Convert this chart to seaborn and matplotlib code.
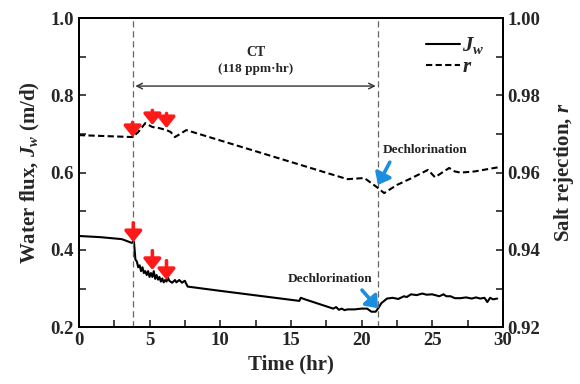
import numpy as np
import pandas as pd
import seaborn as sns
import matplotlib
matplotlib.use("Agg")
import matplotlib.pyplot as plt
from matplotlib.lines import Line2D

# ---------------- data ----------------
jw_time = [0, 1.5, 3.0, 3.1, 3.75, 3.85, 3.9, 4.0, 4.1, 4.2, 4.3, 4.4, 4.5, 4.6, 4.7, 4.8, 4.9,
           5.0, 5.1, 5.2, 5.3, 5.4, 5.5, 5.6, 5.7, 5.8, 5.9, 6.0, 6.1, 6.2, 6.3, 6.4, 6.6, 6.8,
           6.9, 7.1, 7.3, 7.4, 7.5, 7.6, 7.7, 10, 15.6, 15.7, 16.0, 17.0, 18.0, 18.2, 18.4, 18.6,
           18.8, 19.0, 19.5, 20.0, 20.4, 20.7, 21.0, 21.2, 21.4, 21.6, 21.8, 22.2, 22.6, 23.0,
           23.2, 23.5, 23.9, 24.3, 24.6, 25.0, 25.5, 25.8, 26.0, 26.3, 26.6, 27.0, 27.4, 27.8,
           28.1, 28.4, 28.7, 28.9, 29.1, 29.3, 29.6]
jw_flux = [0.436, 0.433, 0.428, 0.427, 0.418, 0.422, 0.42, 0.375, 0.37, 0.355, 0.36, 0.345,
           0.355, 0.34, 0.345, 0.335, 0.345, 0.33, 0.34, 0.33, 0.345, 0.325, 0.335, 0.323, 0.33,
           0.318, 0.326, 0.316, 0.322, 0.318, 0.328, 0.32, 0.315, 0.322, 0.316, 0.322, 0.315,
           0.318, 0.32, 0.312, 0.305, 0.294, 0.268, 0.276, 0.272, 0.26, 0.248, 0.252, 0.245,
           0.248, 0.244, 0.246, 0.246, 0.248, 0.248, 0.24, 0.24, 0.25, 0.262, 0.268, 0.274,
           0.276, 0.273, 0.28, 0.278, 0.285, 0.283, 0.287, 0.284, 0.285, 0.28, 0.285, 0.28,
           0.28, 0.275, 0.275, 0.277, 0.274, 0.277, 0.274, 0.276, 0.265, 0.276, 0.272, 0.274]

r_time = [0, 3.8, 4.2, 4.7, 5.2, 5.6, 6.2, 6.5, 6.8, 7.6, 19.0, 20.2, 21.1, 21.6, 22.5,
          23.5, 24.7, 25.2, 26.2, 26.6, 27.0, 28.0, 29.7]
r_rej = [0.9697, 0.9692, 0.9705, 0.9728, 0.9718, 0.9716, 0.971, 0.9705, 0.9692, 0.971,
         0.9583, 0.9586, 0.9562, 0.9547, 0.9568, 0.9585, 0.9607, 0.9588, 0.9612, 0.9603,
         0.96, 0.9603, 0.9614]

ct_start, ct_end = 3.8, 21.2
red_arrow_t_r = [3.8, 5.2, 6.2]
red_arrow_r = [0.9692, 0.9723, 0.9715]
red_arrow_t_j = [3.85, 5.2, 6.2]
red_arrow_j = [0.42, 0.348, 0.322]

df_j = pd.DataFrame({"t": jw_time, "v": jw_flux})
df_r = pd.DataFrame({"t": r_time, "v": r_rej})

# ---------------- style ----------------
sns.set_style("ticks")
plt.rcParams["font.family"] = ["Liberation Serif", "DejaVu Serif"]
plt.rcParams["font.weight"] = "bold"
plt.rcParams["mathtext.fontset"] = "custom"
plt.rcParams["mathtext.rm"] = "Liberation Serif:bold"
plt.rcParams["mathtext.it"] = "Liberation Serif:italic:bold"
plt.rcParams["mathtext.bf"] = "Liberation Serif:bold"

fig = plt.figure(figsize=(5.8, 3.84), dpi=100)
ax = fig.add_axes([0.136, 0.148, 0.731, 0.805])
ax2 = ax.twinx()

sns.lineplot(data=df_j, x="t", y="v", ax=ax, color="black", lw=1.5,
             estimator=None, sort=False)
sns.lineplot(data=df_r, x="t", y="v", ax=ax2, color="black", lw=1.5,
             estimator=None, sort=False, linestyle=(0, (3, 1.6)))

ax.set_xlim(0, 30)
ax.set_ylim(0.2, 1.0)
ax2.set_ylim(0.92, 1.00)

ax.set_xticks(np.arange(0, 31, 5))
ax.set_xticks(np.arange(0, 31, 2.5), minor=True)
ax.set_yticks([0.2, 0.4, 0.6, 0.8, 1.0])
ax.set_yticks(np.arange(0.2, 1.01, 0.1), minor=True)
ax.set_yticklabels(["0.2", "0.4", "0.6", "0.8", "1.0"])
ax2.set_yticks([0.92, 0.94, 0.96, 0.98, 1.00])
ax2.set_yticks(np.arange(0.92, 1.001, 0.01), minor=True)
ax2.set_yticklabels(["0.92", "0.94", "0.96", "0.98", "1.00"])

for a in (ax, ax2):
    a.tick_params(which="both", direction="in", labelsize=13.5, width=1.2, length=5)
    for s in a.spines.values():
        s.set_linewidth(1.4)
        s.set_color("black")

ax.set_xlabel("Time (hr)", fontsize=15, fontweight="bold", labelpad=4)
ax.set_ylabel("Water flux, $J_w$ (m/d)", fontsize=15, fontweight="bold", labelpad=6)
ax2.set_ylabel("Salt rejection, $r$", fontsize=15, fontweight="bold", labelpad=8)

# vertical markers
for t in (ct_start, ct_end):
    ax.axvline(t, color="#666666", ls=(0, (5, 3)), lw=0.9)

# CT arrow
ax.annotate("", xy=(ct_start, 0.824), xytext=(ct_end, 0.824),
            arrowprops=dict(arrowstyle="<->", color="#333333", lw=1.0))
ax.text((ct_start + ct_end) / 2, 0.91, "CT", ha="center", va="center",
        fontsize=10, fontweight="bold")
ax.text((ct_start + ct_end) / 2, 0.868, "(118 ppm\u00b7hr)", ha="center", va="center",
        fontsize=9.5, fontweight="bold")

# red arrows
red_kw = dict(arrowstyle="-|>,head_width=0.4,head_length=0.5", color="#ff1a1a",
              lw=2.6, mutation_scale=13, shrinkA=0, shrinkB=0)
for t, v in zip(red_arrow_t_r, red_arrow_r):
    ax2.annotate("", xy=(t, v), xytext=(t, v + 0.0038), arrowprops=red_kw)
for t, v in zip(red_arrow_t_j, red_arrow_j):
    ax.annotate("", xy=(t, v), xytext=(t, v + 0.05), arrowprops=red_kw)

# blue arrows
blue_kw = dict(arrowstyle="-|>,head_width=0.4,head_length=0.5", color="#1a8fe0",
               lw=2.6, mutation_scale=13, shrinkA=0, shrinkB=0)
ax2.annotate("", xy=(21.16, 0.9568), xytext=(22.0, 0.9627), arrowprops=blue_kw)
ax.annotate("", xy=(21.16, 0.249), xytext=(20.03, 0.296), arrowprops=blue_kw)
ax2.text(21.5, 0.9658, "Dechlorination", ha="left", va="center", fontsize=9.5,
         fontweight="bold", color="#222222")
ax.text(17.8, 0.324, "Dechlorination", ha="center", va="center", fontsize=9.5,
        fontweight="bold", color="#222222")

# legend
handles = [Line2D([], [], color="black", lw=1.5),
           Line2D([], [], color="black", lw=1.5, ls=(0, (3, 1.6)))]
leg = ax2.legend(handles, ["$J_w$", "$r$"], loc="upper right",
                 bbox_to_anchor=(0.985, 0.985), frameon=False, fontsize=15,
                 handlelength=1.6, handletextpad=0.1, labelspacing=0.05,
                 borderaxespad=0.2)

fig.savefig("out.png", dpi=100)
